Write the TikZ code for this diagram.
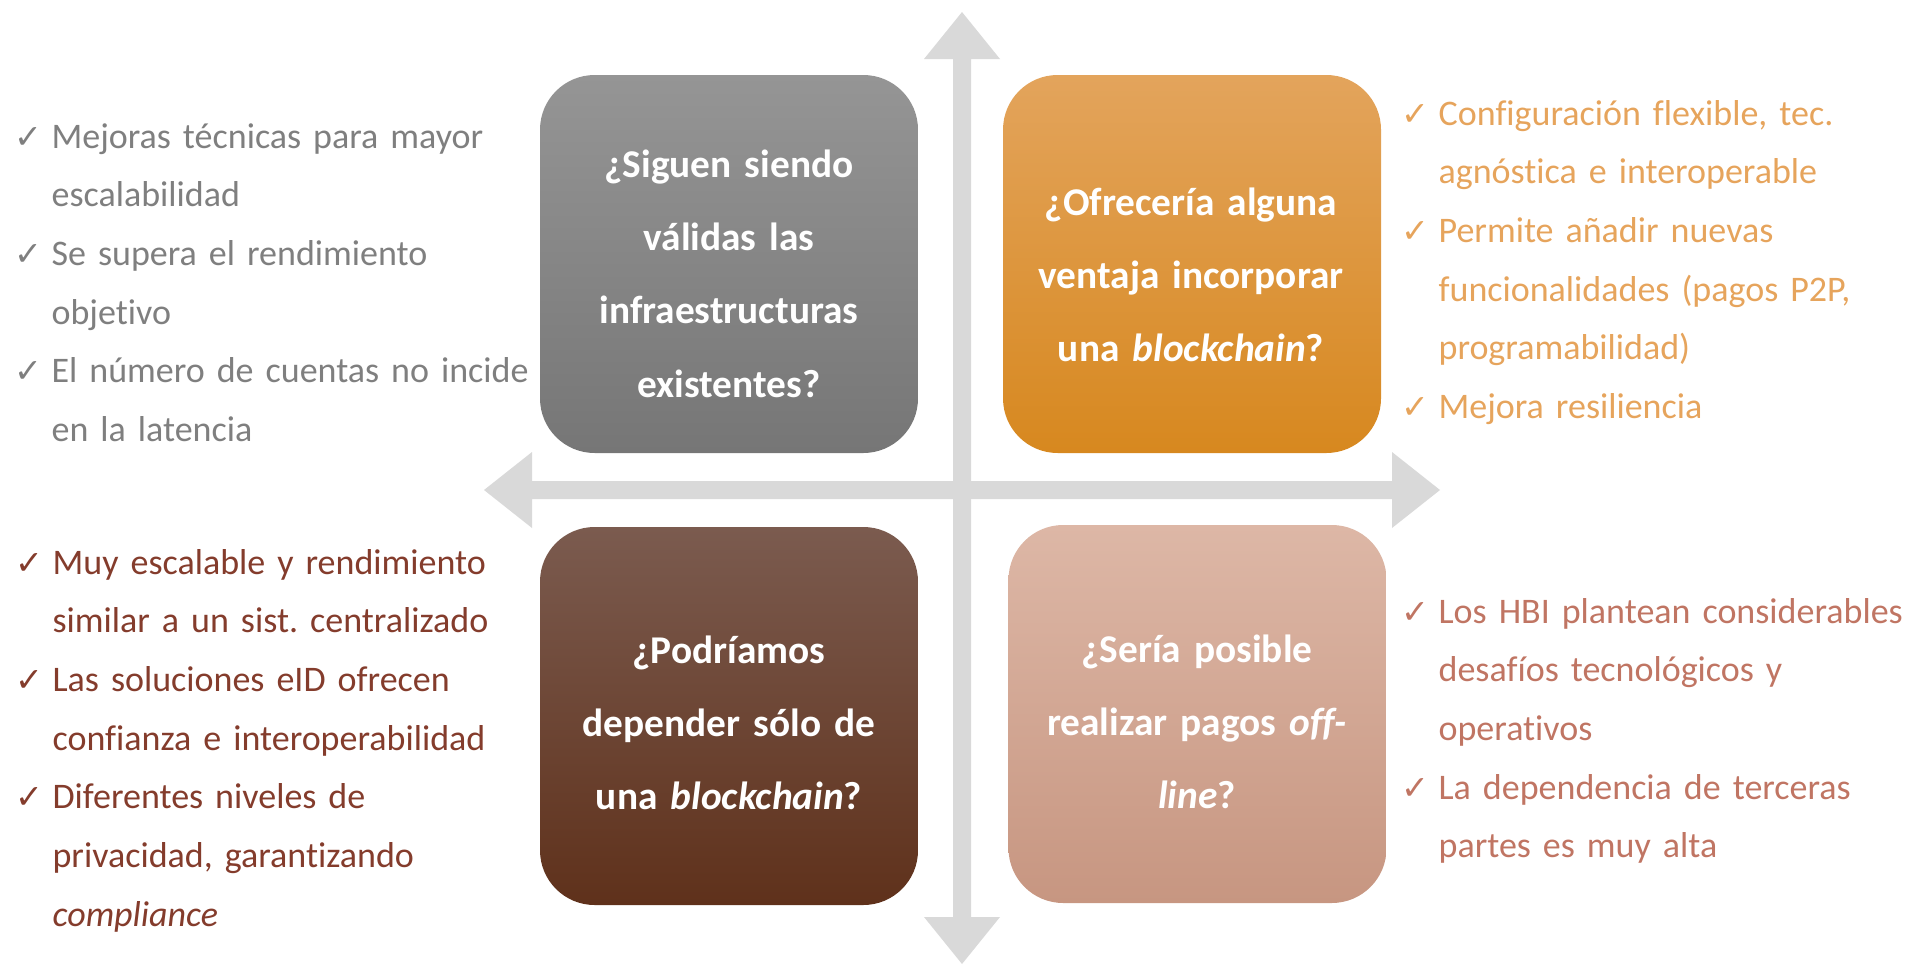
\documentclass[tikz,border=0pt]{standalone}
\usepackage{fontspec}
\setmainfont{Carlito}[Ligatures=NoCommon]
\newfontfamily\chkfont{DejaVu Sans}
\definecolor{axisgray}{HTML}{D9D9D9}
\definecolor{tlTop}{HTML}{959595}
\definecolor{tlBot}{HTML}{767676}
\definecolor{trTop}{HTML}{E3A45C}
\definecolor{trBot}{HTML}{D7881F}
\definecolor{blTop}{HTML}{7B5B4F}
\definecolor{blBot}{HTML}{5F311B}
\definecolor{brTop}{HTML}{DDB7A6}
\definecolor{brBot}{HTML}{C79681}
\definecolor{tlText}{HTML}{7F7F7F}
\definecolor{trText}{HTML}{E6A45C}
\definecolor{blText}{HTML}{843C2C}
\definecolor{brText}{HTML}{C07563}
\newcommand{\ckmark}{\makebox[28pt][l]{\chkfont\fontsize{25}{25}\selectfont ✓}}
\newcommand{\itm}[1]{\hyphenpenalty=10000\relax\hangindent=28pt\hangafter=1\noindent\ckmark #1\par}
\frenchspacing
\begin{document}
\begin{tikzpicture}[x=0.75pt,y=-0.75pt,
  qbox/.style={rectangle, rounded corners=41pt, minimum width=283.5pt, minimum height=283.5pt, inner sep=0pt},
  qtext/.style={text=white, font=\fontsize{29.5}{55}\selectfont\bfseries, align=center, text width=280pt, anchor=base, inner sep=0pt},
  listtext/.style={font=\fontsize{27}{44}\selectfont, align=left, text width=400pt, anchor=base west, inner sep=0pt},
  axisarrow/.style={fill=axisgray, draw=none}]
\useasboundingbox (0,0) rectangle (1915,964);
% axes
\path[axisarrow] (953,59) -- (924,59) -- (962,12) -- (1000,59) -- (971,59) -- (971,917) -- (1000,917) -- (962,964) -- (924,917) -- (953,917) -- cycle;
\path[axisarrow] (532,481) -- (1392,481) -- (1392,452) -- (1440,490) -- (1392,528) -- (1392,499) -- (532,499) -- (532,528) -- (484,490) -- (532,452) -- cycle;
% boxes
\node[qbox, top color=tlTop, bottom color=tlBot] (tl) at (729,264) {};
\node[qbox, top color=trTop, bottom color=trBot] (tr) at (1192,264) {};
\node[qbox, top color=blTop, bottom color=blBot] (bl) at (729,716) {};
\node[qbox, top color=brTop, bottom color=brBot] (br) at (1197.5,714) {};
% box texts
\node[qtext] (tlq) at (729,177) {¿Siguen siendo\\válidas las\\infraestructuras\\existentes?};
\node[qtext] (trq) at (1191,215) {¿Ofrecería alguna\\ventaja incorporar\\una \textit{blockchain}?};
\node[qtext] (blq) at (729,663) {¿Podríamos\\depender sólo de\\una \textit{blockchain}?};
\node[qtext] (brq) at (1197,662) {¿Sería posible\\realizar pagos \textit{off-}\\\textit{line}?};
% lists
\node[listtext, text=tlText] (tll) at (14,148) {%
\itm{Mejoras técnicas para mayor\newline escalabilidad}%
\itm{Se supera el rendimiento\newline objetivo}%
\itm{El número de cuentas no incide\newline en la latencia}};
\node[listtext, text=trText] (trl) at (1401,125) {%
\itm{Configuración flexible, tec.\newline agnóstica e interoperable}%
\itm{Permite añadir nuevas\newline funcionalidades (pagos P2P,\newline programabilidad)}%
\itm{Mejora resiliencia}};
\node[listtext, text=blText] (bll) at (15,574) {%
\itm{Muy escalable y rendimiento\newline similar a un sist. centralizado}%
\itm{Las soluciones eID ofrecen\newline confianza e interoperabilidad}%
\itm{Diferentes niveles de\newline privacidad, garantizando\newline \textit{compliance}}};
\node[listtext, text=brText] (brl) at (1401,623) {%
\itm{Los HBI plantean considerables\newline desafíos tecnológicos y\newline operativos}%
\itm{La dependencia de terceras\newline partes es muy alta}};
\end{tikzpicture}
\end{document}
